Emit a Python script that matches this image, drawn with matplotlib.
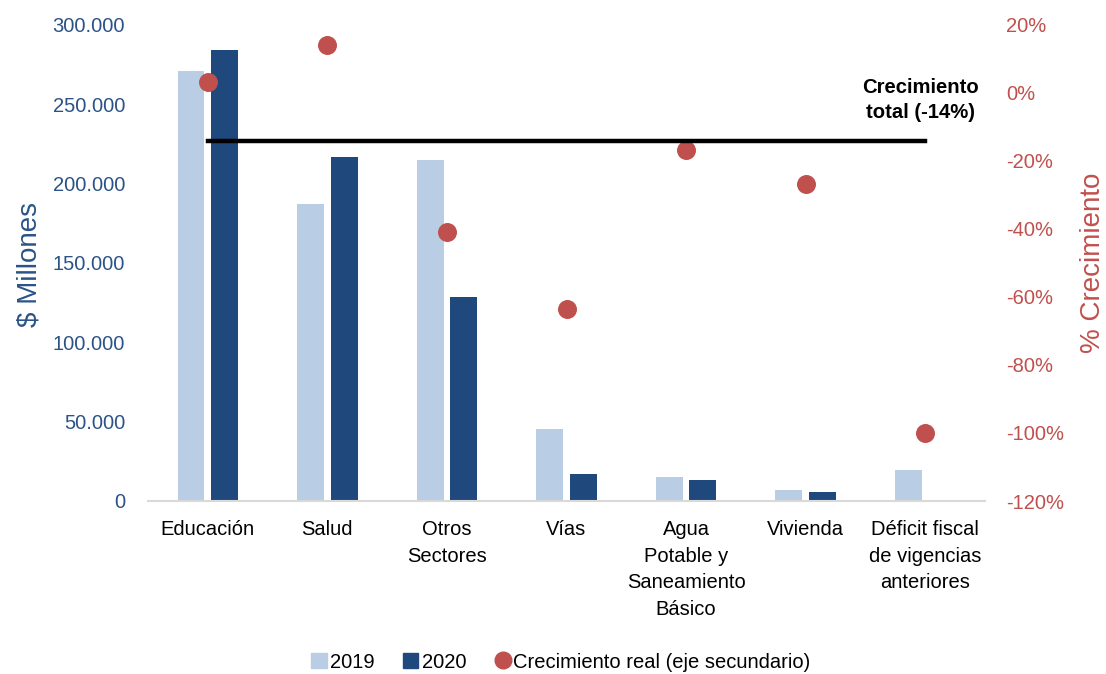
import matplotlib
matplotlib.use("Agg")
import matplotlib.pyplot as plt
import numpy as np
from matplotlib.ticker import FuncFormatter, MultipleLocator
from matplotlib.patches import Patch
from matplotlib.lines import Line2D

plt.rcParams['font.family'] = ['Liberation Sans', 'DejaVu Sans']

categories = ["Educación", "Salud", "Otros\nSectores", "Vías", "Agua\nPotable y\nSaneamiento\nBásico",
              "Vivienda", "Déficit fiscal\nde vigencias\nanteriores"]
values_2019 = [271000, 187500, 215000, 45300, 15200, 6900, 19400]
values_2020 = [284500, 217000, 128600, 16900, 13000, 5500, 0]
growth = [0.032, 0.141, -0.409, -0.635, -0.168, -0.268, -1.00]
total_growth = -0.14

c2019 = '#B9CDE5'
c2020 = '#1F497D'
cdot = '#C0504D'
cleft = '#2B5388'

fig = plt.figure(figsize=(11.06, 6.74), dpi=100)
ax = fig.add_axes([148/1106, 1-501/674, (985-148)/1106, (501-25)/674])
ax2 = ax.twinx()

x = np.arange(len(categories))
w = 0.225
ax.bar(x - 0.14, values_2019, width=w, color=c2019, zorder=2)
ax.bar(x + 0.14, values_2020, width=w, color=c2020, zorder=2)

ax.set_xlim(-0.5, len(categories) - 0.5)
ax.set_ylim(0, 300000)
ax.yaxis.set_major_locator(MultipleLocator(50000))
ax.yaxis.set_major_formatter(FuncFormatter(lambda v, p: f"{int(v):,}".replace(",", ".")))
ax.set_xticks(x)
ax.set_xticklabels(categories, fontsize=14.5, linespacing=1.5, va='top')
ax.tick_params(axis='x', length=0, pad=14)
ax.tick_params(axis='y', length=0, pad=16.5, labelsize=14.5, labelcolor=cleft)
for s in ['top', 'right', 'left']:
    ax.spines[s].set_visible(False)
ax.spines['bottom'].set_color('#D9D9D9')
ax.spines['bottom'].set_linewidth(1.5)
ax.set_ylabel("$ Millones", fontsize=20, color=cleft, va='center', ha='center')
ax.yaxis.set_label_coords(-0.141, 0.496)

ax2.scatter(x, growth, s=160, color=cdot, zorder=3)
ax2.plot([x[0], x[-1]], [total_growth, total_growth], color='black', lw=3.2, zorder=3)
ax2.set_ylim(-1.2, 0.2)
ax2.yaxis.set_major_locator(MultipleLocator(0.2))
ax2.yaxis.set_major_formatter(FuncFormatter(lambda v, p: f"{round(v*100):d}%"))
ax2.tick_params(axis='y', length=0, pad=15, labelsize=14.5, labelcolor=cdot)
for s in ['top', 'right', 'left', 'bottom']:
    ax2.spines[s].set_visible(False)
ax2.set_ylabel("% Crecimiento", fontsize=20, color=cdot, va='center', ha='center', rotation=90)
ax2.yaxis.set_label_coords(1.129, 0.50)

ax2.text(5.96, -0.02, "Crecimiento\ntotal (-14%)", ha='center', va='center',
         fontsize=14.6, fontweight='bold', linespacing=1.37, color='black')

handles = [Patch(color=c2019, label='2019'), Patch(color=c2020, label='2020'),
           Line2D([], [], marker='o', ls='none', color=cdot, markersize=12,
                  label='Crecimiento real (eje secundario)')]
fig.legend(handles=handles, loc='center', bbox_to_anchor=(561/1106, 1-662/674), ncol=3,
           frameon=False, fontsize=14.5, handlelength=0.75, handleheight=0.75,
           handletextpad=0.15, columnspacing=1.45)

fig.savefig("out.png", dpi=100)
